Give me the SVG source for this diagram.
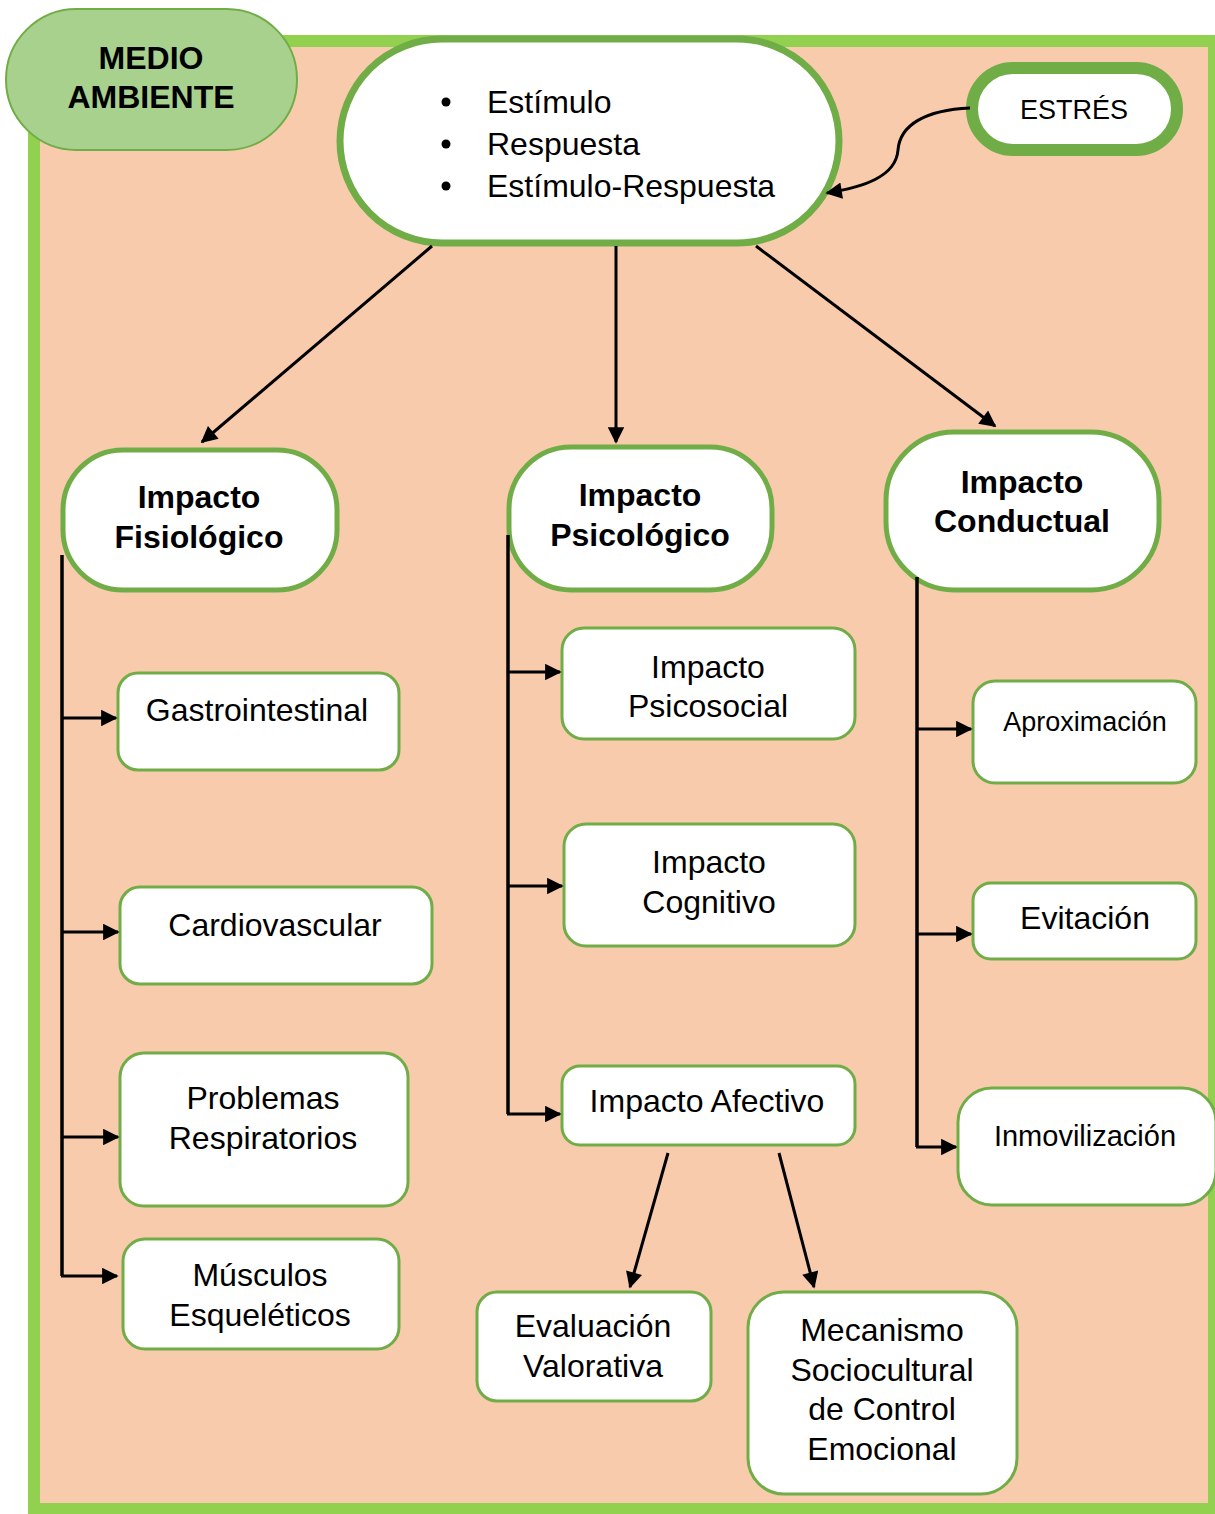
<svg xmlns="http://www.w3.org/2000/svg" width="1215" height="1514" viewBox="0 0 1215 1514">
<defs>
<marker id="ah" viewBox="0 0 10 10" refX="9" refY="5" markerWidth="6" markerHeight="5.5" markerUnits="strokeWidth" orient="auto">
<path d="M0,0 L10,5 L0,10 z" fill="#000"/>
</marker>
<style>
text{font-family:"Liberation Sans",Arial,sans-serif;fill:#000;text-anchor:middle}
.b{font-weight:bold;font-size:32px}
.r{font-size:32px}
.s{font-size:27px}
.box{fill:#fff;stroke:#70AD47;stroke-width:3}
.big{fill:#fff;stroke:#70AD47;stroke-width:5}
.con{fill:none;stroke:#000;stroke-width:3;marker-end:url(#ah)}
.ln{fill:none;stroke:#000;stroke-width:3.5}
</style>
</defs>
<rect x="0" y="0" width="1215" height="1514" fill="#fff"/>
<rect id="panel" x="34" y="41" width="1180" height="1468" fill="#F7CBAC" stroke="#92D050" stroke-width="12"/>

<g id="medio-ambiente">
<rect x="6" y="9" width="291" height="141" rx="70.5" fill="#A9D18E" stroke="#70AD47" stroke-width="2"/>
<text class="b" x="151" y="69">MEDIO</text>
<text class="b" x="151" y="108">AMBIENTE</text>
</g>

<g id="central">
<rect x="340" y="39" width="499" height="204" rx="102" fill="#fff" stroke="#70AD47" stroke-width="7"/>
<circle cx="446" cy="102" r="4.5" fill="#000"/>
<circle cx="446" cy="144" r="4.5" fill="#000"/>
<circle cx="446" cy="186" r="4.5" fill="#000"/>
<text class="r" x="487" y="113" style="text-anchor:start">Estímulo</text>
<text class="r" x="487" y="155" style="text-anchor:start">Respuesta</text>
<text class="r" x="487" y="197" style="text-anchor:start">Estímulo-Respuesta</text>
</g>

<g id="estres">
<rect x="972" y="68" width="205" height="82" rx="41" fill="#fff" stroke="#70AD47" stroke-width="12"/>
<text class="s" x="1074" y="119">ESTRÉS</text>
</g>

<g id="fisiologico">
<rect x="63" y="450" width="274" height="140" rx="60" class="big"/>
<text class="b" x="199" y="508">Impacto</text>
<text class="b" x="199" y="548">Fisiológico</text>
</g>
<g id="psicologico">
<rect x="509" y="447" width="263" height="143" rx="62" class="big"/>
<text class="b" x="640" y="506">Impacto</text>
<text class="b" x="640" y="546">Psicológico</text>
</g>
<g id="conductual">
<rect x="886" y="432" width="273" height="158" rx="68" class="big"/>
<text class="b" x="1022" y="493">Impacto</text>
<text class="b" x="1022" y="532">Conductual</text>
</g>

<g id="gastrointestinal">
<rect x="118" y="673" width="281" height="97" rx="20" class="box"/>
<text class="r" x="257" y="721">Gastrointestinal</text>
</g>
<g id="cardiovascular">
<rect x="120" y="887" width="312" height="97" rx="20" class="box"/>
<text class="r" x="275" y="936">Cardiovascular</text>
</g>
<g id="respiratorios">
<rect x="120" y="1053" width="288" height="153" rx="24" class="box"/>
<text class="r" x="263" y="1109">Problemas</text>
<text class="r" x="263" y="1149">Respiratorios</text>
</g>
<g id="musculos">
<rect x="123" y="1239" width="276" height="110" rx="22" class="box"/>
<text class="r" x="260" y="1286">Músculos</text>
<text class="r" x="260" y="1326">Esqueléticos</text>
</g>

<g id="psicosocial">
<rect x="562" y="628" width="293" height="111" rx="22" class="box"/>
<text class="r" x="708" y="678">Impacto</text>
<text class="r" x="708" y="717">Psicosocial</text>
</g>
<g id="cognitivo">
<rect x="564" y="824" width="291" height="122" rx="22" class="box"/>
<text class="r" x="709" y="873">Impacto</text>
<text class="r" x="709" y="913">Cognitivo</text>
</g>
<g id="afectivo">
<rect x="562" y="1066" width="293" height="79" rx="18" class="box"/>
<text class="r" x="707" y="1112">Impacto Afectivo</text>
</g>
<g id="evaluacion">
<rect x="477" y="1292" width="234" height="109" rx="20" class="box"/>
<text class="r" x="593" y="1337">Evaluación</text>
<text class="r" x="593" y="1377">Valorativa</text>
</g>
<g id="mecanismo">
<rect x="748" y="1292" width="269" height="202" rx="36" class="box"/>
<text class="r" x="882" y="1341">Mecanismo</text>
<text class="r" x="882" y="1381">Sociocultural</text>
<text class="r" x="882" y="1420">de Control</text>
<text class="r" x="882" y="1460">Emocional</text>
</g>

<g id="aproximacion">
<rect x="973" y="681" width="223" height="102" rx="22" class="box"/>
<text class="s" x="1085" y="731">Aproximación</text>
</g>
<g id="evitacion">
<rect x="973" y="883" width="223" height="76" rx="18" class="box"/>
<text class="r" x="1085" y="929">Evitación</text>
</g>
<g id="inmovilizacion">
<rect x="958" y="1088" width="258" height="117" rx="34" class="box"/>
<text class="s" x="1085" y="1146" style="font-size:29px">Inmovilización</text>
</g>

<g id="connectors">
<path class="con" d="M970,108 C925,110 900,125 898,150 C896,176 865,187 827,193"/>
<line class="con" x1="432" y1="246" x2="202" y2="442"/>
<line class="con" x1="616" y1="246" x2="616" y2="442"/>
<line class="con" x1="756" y1="246" x2="995" y2="426"/>

<polyline class="ln" points="62,555 62,1276"/>
<line class="con" x1="62" y1="718" x2="116" y2="718"/>
<line class="con" x1="62" y1="932" x2="118" y2="932"/>
<line class="con" x1="62" y1="1137" x2="118" y2="1137"/>
<line class="con" x1="61" y1="1276" x2="117" y2="1276"/>

<polyline class="ln" points="508,535 508,1114"/>
<line class="con" x1="508" y1="672" x2="560" y2="672"/>
<line class="con" x1="508" y1="886" x2="562" y2="886"/>
<line class="con" x1="507" y1="1114" x2="560" y2="1114"/>

<line class="con" x1="668" y1="1153" x2="630" y2="1287"/>
<line class="con" x1="779" y1="1153" x2="814" y2="1287"/>

<polyline class="ln" points="917,577 917,1147"/>
<line class="con" x1="917" y1="729" x2="971" y2="729"/>
<line class="con" x1="917" y1="934" x2="971" y2="934"/>
<line class="con" x1="916" y1="1147" x2="956" y2="1147"/>
</g>
</svg>
